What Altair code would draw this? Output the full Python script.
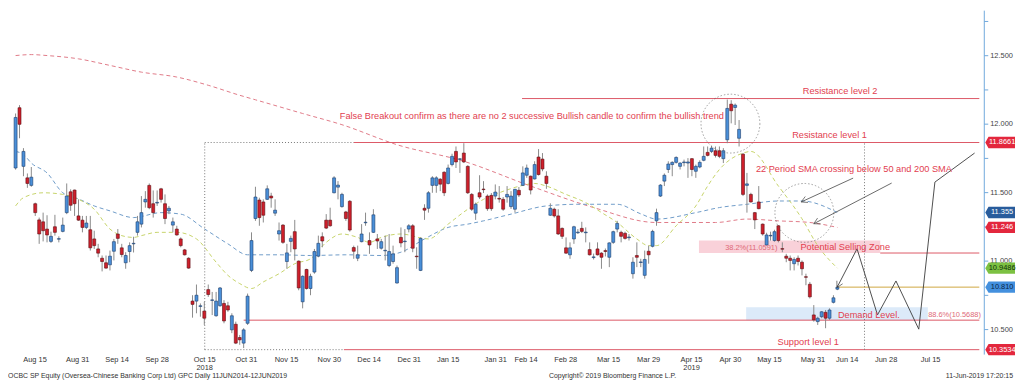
import math
import altair as alt
import pandas as pd

# ---------------- data ----------------
opens = [11.680,12.120,11.692,11.608,11.553,11.419,11.301,11.287,11.234,11.144,
         11.251,11.160,11.217,11.354,11.506,11.519,11.330,11.299,11.246,11.229,
         11.162,11.089,11.021,10.988,10.973,11.072,11.198,11.097,10.988,11.070,
         11.126,11.210,11.270,11.432,11.553,11.419,11.424,11.528,11.419,11.367,
         11.263,11.234,11.162,11.082,11.021,10.708,10.708,10.669,10.635,10.792,
         10.713,10.601,10.674,10.691,10.674,10.498,10.539,10.442,10.401,10.546,
         10.932,11.311,11.446,11.432,11.451,11.475,11.350,11.198,11.263,10.997,
         11.144,11.215,11.000,10.703,10.939,10.800,10.920,11.036,11.178,11.299,
         11.299,11.499,11.540,11.398,11.359,11.437,11.099,11.021,11.142,11.280,
         11.150,11.210,11.162,11.094,11.075,10.968,10.997,10.840,11.173,11.142,
         11.234,11.258,11.036,10.932,11.386,11.386,11.553,11.553,11.598,11.649,
         11.567,11.705,11.801,11.743,11.789,11.692,11.487,11.350,11.499,11.526,
         11.475,11.480,11.475,11.458,11.451,11.468,11.398,11.379,11.517,11.553,
         11.627,11.620,11.600,11.760,11.745,11.620,11.335,11.379,11.330,11.239,
         11.097,11.046,11.162,11.207,11.239,11.207,11.084,11.026,11.089,11.058,
         11.077,11.028,11.137,11.234,11.210,11.203,11.171,10.908,11.041,10.990,
         10.896,11.072,11.108,11.294,11.475,11.584,11.669,11.705,11.721,11.692,
         11.719,11.716,11.748,11.656,11.687,11.736,11.794,11.801,11.806,11.806,
         11.748,11.886,12.146,12.122,11.897,11.781,11.553,11.487,11.354,11.432,
         11.270,11.118,11.184,11.150,11.258,11.091,11.036,11.021,10.981,11.021,
         10.992,10.886,10.831,10.607,10.558,10.594,10.626,10.583,10.699,10.795]
highs = [12.078,12.139,11.825,11.640,11.687,11.427,11.318,11.354,11.335,11.215,
         11.338,11.181,11.318,11.567,11.524,11.522,11.451,11.330,11.330,11.330,
         11.222,11.126,11.041,11.041,11.077,11.162,11.234,11.126,11.065,11.137,
         11.178,11.330,11.475,11.511,11.567,11.516,11.516,11.535,11.487,11.403,
         11.318,11.258,11.173,11.089,11.028,10.751,10.829,10.691,10.703,10.829,
         10.775,10.775,10.811,10.715,10.703,10.619,10.558,10.461,10.510,10.763,
         11.210,11.543,11.463,11.451,11.553,11.499,11.451,11.282,11.270,11.126,
         11.186,11.301,11.005,10.896,10.944,10.908,11.089,11.186,11.210,11.343,
         11.390,11.620,11.584,11.499,11.367,11.446,11.113,11.113,11.270,11.354,
         11.210,11.379,11.198,11.162,11.186,11.198,11.113,10.968,11.246,11.234,
         11.270,11.270,11.101,11.173,11.415,11.511,11.620,11.620,11.606,11.656,
         11.705,11.784,11.837,11.752,11.861,11.700,11.497,11.427,11.627,11.584,
         11.487,11.497,11.560,11.548,11.468,11.548,11.511,11.528,11.541,11.692,
         11.705,11.625,11.729,11.818,11.789,11.656,11.422,11.390,11.379,11.246,
         11.173,11.137,11.258,11.234,11.287,11.246,11.137,11.055,11.137,11.065,
         11.092,11.137,11.222,11.294,11.222,11.215,11.198,11.028,11.137,11.017,
         11.077,11.113,11.229,11.383,11.562,11.640,11.729,11.729,11.765,11.721,
         11.741,11.752,11.752,11.705,11.736,11.837,11.837,11.842,11.837,11.837,
         11.825,12.180,12.175,12.151,12.030,11.789,11.644,11.499,11.359,11.548,
         11.275,11.207,11.215,11.229,11.263,11.137,11.053,11.041,11.028,11.041,
         11.005,10.908,10.848,10.679,10.594,10.635,10.643,10.655,10.751,10.824]
lows = [11.668,11.897,11.620,11.535,11.543,11.330,11.126,11.144,11.137,11.133,
        11.186,11.137,11.210,11.343,11.367,11.330,11.294,11.210,11.234,11.077,
        11.089,11.028,10.925,10.944,10.932,11.005,11.126,11.028,10.944,10.992,
        11.063,11.186,11.246,11.390,11.379,11.318,11.403,11.427,11.270,11.343,
        11.210,11.186,11.101,11.041,10.944,10.587,10.619,10.594,10.534,10.739,
        10.606,10.594,10.667,10.546,10.630,10.474,10.394,10.389,10.365,10.534,
        10.920,11.294,11.258,11.282,11.446,11.390,11.330,11.150,11.126,10.944,
        11.065,11.005,10.787,10.655,10.792,10.751,10.908,11.028,11.101,11.234,
        11.251,11.495,11.451,11.390,11.294,11.215,11.017,11.000,11.137,11.258,
        11.053,11.205,11.089,11.084,11.005,10.956,10.981,10.836,11.101,11.065,
        11.210,11.065,10.944,10.927,11.301,11.354,11.499,11.499,11.511,11.475,
        11.560,11.692,11.680,11.644,11.716,11.490,11.367,11.301,11.453,11.497,
        11.367,11.367,11.451,11.427,11.367,11.427,11.381,11.354,11.468,11.548,
        11.608,11.487,11.596,11.625,11.656,11.528,11.330,11.318,11.191,11.162,
        11.053,11.017,11.126,11.198,11.205,11.137,11.041,11.012,11.041,10.944,
        11.034,10.956,11.126,11.210,11.137,11.157,11.150,10.872,10.956,10.956,
        10.872,10.981,11.100,11.258,11.468,11.548,11.644,11.620,11.712,11.669,
        11.692,11.608,11.620,11.608,11.678,11.729,11.765,11.789,11.757,11.752,
        11.716,11.861,12.006,11.994,11.837,11.475,11.354,11.427,11.234,11.379,
        11.186,11.113,11.150,11.142,11.137,11.065,10.992,10.932,10.932,10.968,
        10.896,10.824,10.727,10.558,10.534,10.583,10.510,10.571,10.691,10.788]
closes = [12.049,11.999,11.801,11.567,11.613,11.354,11.198,11.222,11.191,11.181,
          11.210,11.164,11.263,11.475,11.408,11.419,11.299,11.246,11.278,11.097,
          11.113,11.058,10.997,10.949,11.036,11.142,11.166,11.048,11.041,11.113,
          11.130,11.287,11.354,11.451,11.390,11.354,11.429,11.451,11.311,11.386,
          11.287,11.191,11.113,11.046,10.949,10.684,10.751,10.674,10.583,10.756,
          10.717,10.708,10.804,10.563,10.643,10.601,10.401,10.425,10.498,10.744,
          11.150,11.468,11.318,11.335,11.528,11.461,11.372,11.222,11.137,11.060,
          11.166,11.089,10.804,10.889,10.800,10.889,11.070,11.130,11.147,11.241,
          11.258,11.608,11.555,11.487,11.311,11.227,11.072,11.046,11.198,11.284,
          11.118,11.338,11.147,11.142,11.079,11.070,11.053,10.952,11.133,11.146,
          11.258,11.094,11.032,11.166,11.372,11.499,11.608,11.608,11.562,11.499,
          11.680,11.765,11.724,11.747,11.724,11.499,11.379,11.415,11.468,11.522,
          11.383,11.383,11.504,11.453,11.379,11.487,11.475,11.524,11.483,11.644,
          11.680,11.519,11.705,11.632,11.673,11.567,11.386,11.330,11.198,11.181,
          11.058,11.097,11.251,11.212,11.217,11.212,11.046,11.031,11.046,11.028,
          11.070,11.133,11.215,11.275,11.181,11.166,11.176,10.992,11.028,10.994,
          11.012,11.046,11.217,11.354,11.555,11.627,11.709,11.721,11.757,11.716,
          11.724,11.724,11.669,11.692,11.721,11.765,11.772,11.825,11.772,11.765,
          11.806,12.115,12.098,12.139,11.962,11.487,11.564,11.432,11.301,11.383,
          11.198,11.191,11.188,11.215,11.150,11.087,11.021,11.005,11.012,10.997,
          10.944,10.882,10.739,10.571,10.583,10.630,10.583,10.643,10.732,10.810]

sma200_idx = [0, 4, 8, 16, 24, 32, 41, 49, 57, 61, 73, 83, 97, 114, 131, 147, 163, 178, 186, 194, 202, 209]
sma200_val = [12.501, 12.508, 12.501, 12.477, 12.429, 12.380, 12.344, 12.284, 12.211, 12.178, 12.078,
              11.996, 11.850, 11.729, 11.548, 11.391, 11.282, 11.282, 11.307, 11.294, 11.282, 11.246]
sma50_idx = [0, 2, 4, 8, 12, 16, 20, 24, 30, 37, 42, 48, 54, 59, 67, 75, 84, 93, 98, 104, 110, 115,
             119, 126, 135, 143, 153, 159, 163, 173, 179, 186, 194, 200, 209]
sma50_val = [11.801, 11.779, 11.716, 11.644, 11.499, 11.454, 11.403, 11.367, 11.318, 11.354, 11.343,
             11.236, 11.126, 11.046, 11.046, 11.041, 11.046, 11.041, 11.065, 11.162, 11.246, 11.270,
             11.294, 11.343, 11.403, 11.415, 11.415, 11.345, 11.307, 11.354, 11.391, 11.415, 11.439,
             11.439, 11.355]
sma22_idx = [0, 2, 7, 12, 16, 20, 24, 27, 30, 32, 36, 41, 46, 51, 54, 57, 60, 63, 67, 71, 75, 79, 83,
             87, 90, 93, 98, 105, 110, 115, 119, 123, 129, 132, 135, 140, 145, 149, 153, 158, 161, 163,
             168, 173, 176, 179, 185, 187, 194, 200, 204, 209]
sma22_val = [11.403, 11.463, 11.499, 11.487, 11.451, 11.379, 11.234, 11.186, 11.173, 11.186, 11.210,
             11.210, 11.162, 10.992, 10.896, 10.836, 10.800, 10.848, 10.908, 10.981, 11.017, 11.137,
             11.198, 11.173, 11.137, 11.173, 11.198, 11.162, 11.270, 11.379, 11.451, 11.499, 11.553,
             11.567, 11.548, 11.487, 11.427, 11.355, 11.282, 11.162, 11.113, 11.113, 11.258, 11.403,
             11.548, 11.669, 11.789, 11.801, 11.548, 11.309, 11.113, 10.9486]

month_pos = [4.95, 15.8, 25.8, 36.0, 48.1, 58.7, 68.9, 79.8, 89.9, 100.1, 110.0, 122.1, 129.8,
             139.9, 150.8, 161.0, 171.9, 181.8, 191.7, 202.8, 211.5, 221.4, 232.7]
month_lab = ["Aug 15", "Aug 31", "Sep 14", "Sep 28", "Oct 15", "Oct 31", "Nov 15", "Nov 30",
             "Dec 14", "Dec 31", "Jan 15", "Jan 31", "Feb 14", "Feb 28", "Mar 15", "Mar 29",
             "Apr 15", "Apr 30", "May 15", "May 31", "Jun 14", "Jun 28", "Jul 15"]
year_pos = [48.1, 171.9]
year_lab = ["2018", "2019"]
ytick_vals = [10.5, 10.75, 11.0, 11.25, 11.5, 11.75, 12.0, 12.25, 12.5, 12.75]
ylab_vals = [10.5, 11.0, 11.5, 12.0, 12.5]
ylab_text = ["10.500", "11.000", "11.500", "12.000", "12.500"]

# levels
res2, res1, sup1, fib886, fib382, last_px = 12.187, 11.8661, 10.3534, 10.5688, 11.0591, 10.810

zig_idx = [208.9, 214.0, 219.2, 223.9, 229.7, 233.8, 243.9]
zig_val = [10.807, 11.090, 10.607, 10.855, 10.503, 11.577, 11.789]

tag_vals = [11.8661, 11.355, 11.246, 10.9486, 10.810, 10.3534]
tag_text = ["11.8661", "11.355", "11.246", "10.9486", "10.810", "10.3534"]
tag_fill = ["#e3273d", "#285c9c", "#e3273d", "#7cc142", "#4390de", "#e3273d"]
tag_ink = ["#ffffff", "#ffffff", "#ffffff", "#10300a", "#0a2647", "#ffffff"]

# ---------------- layout ----------------
W, H = 985, 345
XMIN, XMAX = -0.67, 245.1
YMIN, YMAX = 10.332, 12.829
FONT = "Liberation Sans"
AXC = "#6fa8dc"
xs = alt.Scale(domain=[XMIN, XMAX], nice=False, zero=False)
ys = alt.Scale(domain=[YMIN, YMAX], nice=False, zero=False)


def X(f):
    return alt.X(f, type="quantitative", scale=xs, axis=None)


def Y(f):
    return alt.Y(f, type="quantitative", scale=ys, axis=None)


n = len(opens)
cd = pd.DataFrame({"idx": list(range(n)), "open": opens, "high": highs, "low": lows, "close": closes})
upm = cd["close"] >= cd["open"]
cd["fill"] = upm.map({True: "#4a8fd8", False: "#cf1f2b"})
cd["edge"] = upm.map({True: "#1d3e6e", False: "#5c0d12"})

# zones
zones = pd.DataFrame({"x1": [173.8, 185.8], "x2": [219.9, 232.0], "y1": [fib382, fib886],
                      "y2": [11.150, 10.663], "c": ["#f7c6d0", "#d3e5f7"]})
zone_layer = alt.Chart(zones).mark_rect(opacity=0.8).encode(
    x=X("x1"), x2="x2", y=Y("y1"), y2="y2", color=alt.Color("c:N", scale=None))

# moving averages
rows = []
for name, ix, vv in [("200", sma200_idx, sma200_val), ("50", sma50_idx, sma50_val), ("22", sma22_idx, sma22_val)]:
    for i, v in zip(ix, vv):
        rows.append({"series": name, "idx": i, "val": v})
ma = pd.DataFrame(rows)
ma_layer = alt.Chart(ma).mark_line(strokeDash=[4, 3], strokeWidth=1, interpolate="monotone").encode(
    x=X("idx"), y=Y("val"),
    color=alt.Color("series:N", scale=alt.Scale(domain=["200", "50", "22"],
                                                range=["#e07a88", "#6f9cc8", "#c6d36a"]), legend=None),
    detail="series:N")

# level lines
red = pd.DataFrame({"x1": [128.8, 86.0, 83.5, 58.0, 219.9], "x2": [XMAX] * 5,
                    "y": [res2, res1, sup1, fib886, fib382]})
red_layer = alt.Chart(red).mark_rule(color="#dd5866", strokeWidth=1).encode(x=X("x1"), x2="x2", y=Y("y"))
gold = pd.DataFrame({"x1": [209.2], "x2": [XMAX], "y": [last_px]})
gold_layer = alt.Chart(gold).mark_rule(color="#cfa640", strokeWidth=1).encode(x=X("x1"), x2="x2", y=Y("y"))
doth = pd.DataFrame({"x1": [48.1, 48.1], "x2": [86.0, 83.5], "y": [res1, sup1]})
doth_layer = alt.Chart(doth).mark_rule(color="#777777", strokeWidth=1, strokeDash=[1, 2]).encode(
    x=X("x1"), x2="x2", y=Y("y"))
dotv = pd.DataFrame({"x": [48.1, 215.9], "y1": [sup1, sup1], "y2": [res1, res1]})
dotv_layer = alt.Chart(dotv).mark_rule(color="#777777", strokeWidth=1, strokeDash=[1, 2]).encode(
    x=X("x"), y=Y("y1"), y2="y2")

# candles
wick_layer = alt.Chart(cd).mark_rule(color="#8a8a8a", strokeWidth=1).encode(x=X("idx"), y=Y("low"), y2="high")
body_layer = alt.Chart(cd).mark_bar(size=3, strokeWidth=0.6).encode(
    x=X("idx"), y=Y("open"), y2="close",
    fill=alt.Fill("fill:N", scale=None),
    stroke=alt.Stroke("edge:N", scale=None))

# dotted circles
circ = pd.DataFrame({"idx": [181.8, 200.6], "val": [12.004, 11.352]})
circ_layer = alt.Chart(circ).mark_point(shape="circle", size=3526, filled=False, color="#555555",
                                        strokeWidth=0.8, strokeDash=[1.5, 2]).encode(x=X("idx"), y=Y("val"))

# arrows
pxx = W / (XMAX - XMIN)
pxy = H / (YMAX - YMIN)
arr = pd.DataFrame({"x1": [213.0, 222.8, 214.0], "y1": [11.606, 11.570, 11.090],
                    "x2": [199.8, 203.0, 208.9], "y2": [11.432, 11.273, 10.807]})
arr["angle"] = [(math.degrees(math.atan2(-(b2 - b1) * pxy, (a2 - a1) * pxx)) + 360) % 360
                for a1, b1, a2, b2 in zip(arr.x1, arr.y1, arr.x2, arr.y2)]
arr_lines = alt.Chart(arr.iloc[:2]).mark_rule(color="#444444", strokeWidth=0.8).encode(
    x=X("x1"), y=Y("y1"), x2="x2", y2="y2")
arr_heads = alt.Chart(arr).mark_point(shape="M -1 -0.55 L 0 0 L -1 0.55", size=144, filled=False,
                                      color="#444444", strokeWidth=0.9).encode(
    x=X("x2"), y=Y("y2"), angle=alt.Angle("angle:Q", scale=None))

zig = pd.DataFrame({"idx": zig_idx, "val": zig_val, "o": list(range(len(zig_idx)))})
zig_layer = alt.Chart(zig).mark_line(color="#3a3a3a", strokeWidth=0.9).encode(
    x=X("idx"), y=Y("val"), order="o:Q")

# annotation texts
ann = pd.DataFrame({
    "idx": [131.3, 209.7, 207.0, 213.2, 211.0, 217.0, 201.6],
    "val": [12.060, 12.243, 11.924, 11.671, 11.101, 10.607, 10.409],
    "text": ["False Breakout confirm as there are no 2 successive Bullish candle to confirm the bullish trend",
             "Resistance level 2", "Resistance level 1", "22 Period SMA crossing below 50 and 200 SMA",
             "Potential Selling Zone", "Demand Level.", "Support level 1"]})
ann_layer = alt.Chart(ann).mark_text(fontSize=9.3, color="#e2404f", font=FONT, align="center",
                                     baseline="middle").encode(x=X("idx"), y=Y("val"), text="text:N")
fib = pd.DataFrame({"idx": [187.1, 238.8], "val": [11.092, 10.607],
                    "text": ["38.2%(11.0591)", "88.6%(10.5688)"]})
fib_layer = alt.Chart(fib).mark_text(fontSize=7.5, color="#e06a78", font=FONT, align="center",
                                     baseline="middle").encode(x=X("idx"), y=Y("val"), text="text:N")

# x-axis labels (month and year lines)
months = pd.DataFrame({"idx": month_pos, "text": month_lab})
month_layer = alt.Chart(months).mark_text(fontSize=7.5, color="#333333", font=FONT, baseline="middle").encode(
    x=X("idx"), y=alt.value(H + 7), text="text:N")
years = pd.DataFrame({"idx": year_pos, "text": year_lab})
year_layer = alt.Chart(years).mark_text(fontSize=7.5, color="#333333", font=FONT, baseline="middle").encode(
    x=X("idx"), y=alt.value(H + 16), text="text:N")

# right price axis
ydom = alt.Chart(pd.DataFrame({"a": [0]})).mark_rule(color=AXC, strokeWidth=1).encode(
    x=alt.value(W), y=alt.value(0), y2=alt.value(H + 2))
yticks = alt.Chart(pd.DataFrame({"val": ytick_vals})).mark_rule(color=AXC, strokeWidth=1).encode(
    x=alt.value(W), x2=alt.value(W + 4), y=Y("val"))
ylabs = alt.Chart(pd.DataFrame({"val": ylab_vals, "text": ylab_text})).mark_text(
    fontSize=7.5, color="#444444", font=FONT, align="left", baseline="middle").encode(
    x=alt.value(W + 6), y=Y("val"), text="text:N")

# footer
foot_l = alt.Chart(pd.DataFrame({"t": ["OCBC SP Equity (Oversea-Chinese Banking Corp Ltd) GPC  Daily 11JUN2014-12JUN2019"]})
                   ).mark_text(fontSize=7, color="#333333", font=FONT, align="left", baseline="middle").encode(
    x=alt.value(0), y=alt.value(H + 24), text="t:N")
foot_c = alt.Chart(pd.DataFrame({"t": ["Copyright\u00a9 2019 Bloomberg Finance L.P."]})
                   ).mark_text(fontSize=7, color="#333333", font=FONT, align="center", baseline="middle").encode(
    x=alt.value(round(W * 615 / 993)), y=alt.value(H + 24), text="t:N")
foot_r = alt.Chart(pd.DataFrame({"t": ["11-Jun-2019 17:20:15"]})
                   ).mark_text(fontSize=7, color="#333333", font=FONT, align="right", baseline="middle").encode(
    x=alt.value(W + 29), y=alt.value(H + 24), text="t:N")

# right-axis value tags
tags = pd.DataFrame({"val": tag_vals, "text": tag_text, "fill": tag_fill, "ink": tag_ink})
tag_shape = alt.Chart(tags).mark_point(shape="M -1 0 L -0.78 -0.38 L 1 -0.38 L 1 0.38 L -0.78 0.38 Z",
                                       size=900, filled=True, opacity=1).encode(
    x=alt.value(W + 16), y=Y("val"), fill=alt.Fill("fill:N", scale=None), stroke=alt.value(None))
tag_txt = alt.Chart(tags).mark_text(fontSize=7.5, font=FONT, align="center", baseline="middle").encode(
    x=alt.value(W + 18), y=Y("val"), text="text:N", color=alt.Color("ink:N", scale=None))

chart = alt.layer(
    zone_layer, ma_layer, red_layer, gold_layer, doth_layer, dotv_layer,
    wick_layer, body_layer, circ_layer, arr_lines, arr_heads, zig_layer,
    ann_layer, fib_layer, month_layer, year_layer, ydom, yticks, ylabs,
    foot_l, foot_c, foot_r, tag_shape, tag_txt
).properties(width=W, height=H, padding=0, background="#ffffff").configure_view(stroke=None)

chart.save("out.html", embed_options={"renderer": "svg", "actions": False})
